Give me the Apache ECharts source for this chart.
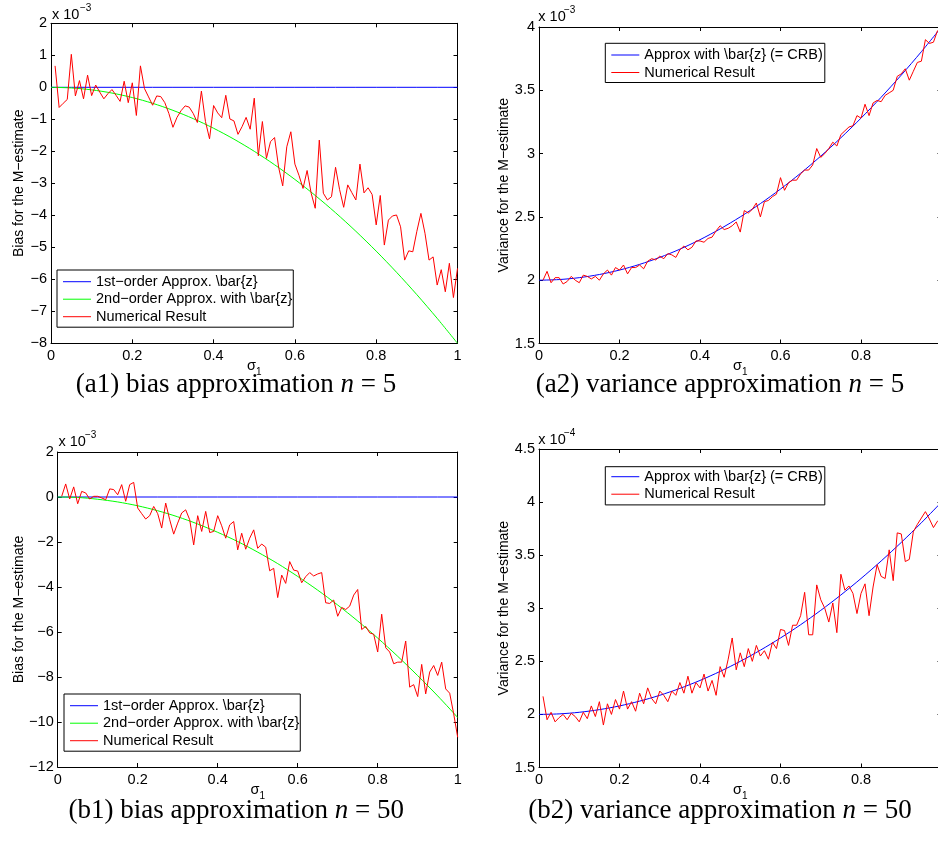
<!DOCTYPE html>
<html>
<head>
<meta charset="utf-8">
<script src="https://cdn.jsdelivr.net/npm/echarts@6/dist/echarts.min.js"></script>
<style>
html, body { margin: 0; padding: 0; background: #fff; }
#fig { width: 938px; height: 846px; }
</style>
</head>
<body>
<div id="fig"></div>
<script>
// sigma_1 sample points of the simulation
const sigma = [
  0.01,0.02,0.03,0.04,0.05,0.06,0.07,0.08,0.09,0.10,
  0.11,0.12,0.13,0.14,0.15,0.16,0.17,0.18,0.19,0.20,
  0.21,0.22,0.23,0.24,0.25,0.26,0.27,0.28,0.29,0.30,
  0.31,0.32,0.33,0.34,0.35,0.36,0.37,0.38,0.39,0.40,
  0.41,0.42,0.43,0.44,0.45,0.46,0.47,0.48,0.49,0.50,
  0.51,0.52,0.53,0.54,0.55,0.56,0.57,0.58,0.59,0.60,
  0.61,0.62,0.63,0.64,0.65,0.66,0.67,0.68,0.69,0.70,
  0.71,0.72,0.73,0.74,0.75,0.76,0.77,0.78,0.79,0.80,
  0.81,0.82,0.83,0.84,0.85,0.86,0.87,0.88,0.89,0.90,
  0.91,0.92,0.93,0.94,0.95,0.96,0.97,0.98,0.99,1.00
];
// sigma_1 points for the analytic approximations
const sigmaFit = [0,0.05,0.10,0.15,0.20,0.25,0.30,0.35,0.40,0.45,0.50,0.55,0.60,0.65,0.70,0.75,0.80,0.85,0.90,0.95,1.00];

// (a1) bias, n = 5  (x 1e-3)
const biasN5First  = [0,0,0,0,0,0,0,0,0,0,0,0,0,0,0,0,0,0,0,0,0];
const biasN5Second = [0,-0.02,-0.08,-0.18,-0.32,-0.50,-0.72,-0.98,-1.28,-1.62,-2.00,-2.42,-2.88,-3.38,-3.92,-4.50,-5.12,-5.78,-6.48,-7.22,-8.00];
const biasN5Numerical = [
  0.67,-0.63,-0.50,-0.38,1.03,-0.27,0.21,-0.36,0.38,-0.26,
  0.07,-0.15,-0.36,-0.20,-0.07,-0.25,-0.44,0.19,-0.48,0.14,
  -0.88,0.67,-0.04,-0.30,-0.56,-0.27,-0.29,-0.48,-0.82,-1.25,
  -0.94,-0.73,-0.58,-0.62,-0.82,-1.10,-0.12,-1.07,-1.61,-0.57,
  -0.80,-0.95,-0.25,-0.99,-1.05,-1.47,-1.23,-0.94,-1.31,-0.34,
  -2.14,-1.07,-2.22,-1.70,-1.57,-2.50,-3.08,-1.86,-1.39,-2.40,
  -2.75,-3.16,-2.60,-3.31,-3.78,-1.65,-3.31,-3.52,-3.42,-2.50,
  -3.20,-3.75,-3.05,-3.29,-3.52,-2.40,-3.30,-3.14,-3.35,-4.30,
  -3.38,-4.93,-4.15,-4.02,-3.99,-4.36,-5.40,-5.11,-5.14,-4.50,
  -3.94,-4.56,-5.40,-5.30,-6.18,-5.70,-6.39,-5.50,-6.57,-5.66
];

// (a2) variance, n = 5  (x 1e-3)
const varN5Approx = [2.000,2.005,2.020,2.045,2.080,2.125,2.180,2.245,2.320,2.405,2.500,2.605,2.720,2.845,2.980,3.125,3.280,3.445,3.620,3.805,4.000];
const varN5Numerical = [
  2.00,2.07,1.98,2.02,2.02,1.97,1.99,2.03,2.00,1.98,
  2.04,2.03,2.01,2.03,2.00,2.05,2.08,2.04,2.10,2.08,
  2.12,2.05,2.10,2.10,2.12,2.09,2.15,2.17,2.16,2.19,
  2.17,2.21,2.20,2.18,2.24,2.27,2.24,2.26,2.31,2.31,
  2.30,2.33,2.34,2.39,2.43,2.40,2.41,2.43,2.46,2.38,
  2.55,2.53,2.56,2.61,2.50,2.62,2.63,2.66,2.68,2.81,
  2.71,2.77,2.79,2.79,2.84,2.87,2.87,2.91,3.04,2.97,
  3.00,3.04,3.09,3.06,3.15,3.18,3.21,3.22,3.30,3.28,
  3.39,3.30,3.40,3.42,3.41,3.46,3.48,3.50,3.61,3.63,
  3.67,3.58,3.65,3.72,3.73,3.90,3.87,3.88,3.97,3.96
];

// (b1) bias, n = 50  (x 1e-3)
const biasN50First  = [0,0,0,0,0,0,0,0,0,0,0,0,0,0,0,0,0,0,0,0,0];
const biasN50Second = [0,-0.02,-0.10,-0.22,-0.39,-0.61,-0.88,-1.20,-1.57,-1.98,-2.45,-2.96,-3.53,-4.14,-4.80,-5.51,-6.27,-7.08,-7.94,-8.84,-9.80];
const biasN50Numerical = [
  0.03,0.58,-0.09,0.45,-0.30,0.25,0.18,-0.09,0.03,0.03,
  -0.04,-0.12,0.36,0.33,0.10,0.55,-0.19,0.55,0.65,-0.49,
  -0.74,-0.98,-0.83,-0.42,-0.74,-1.38,-0.27,-1.01,-1.65,-1.16,
  -0.71,-0.57,-1.01,-2.13,-0.83,-1.53,-0.64,-1.58,-1.53,-0.83,
  -1.28,-1.83,-1.24,-1.09,-2.35,-1.61,-2.32,-1.83,-1.46,-2.28,
  -2.09,-2.23,-3.28,-3.17,-4.47,-3.47,-3.84,-2.87,-3.25,-3.29,
  -3.81,-3.54,-3.36,-3.51,-3.42,-3.36,-4.70,-4.73,-4.58,-5.30,
  -4.91,-5.00,-4.85,-4.36,-4.11,-5.89,-5.75,-6.04,-6.10,-6.89,
  -5.21,-6.70,-6.89,-7.41,-7.34,-7.34,-6.40,-8.45,-8.34,-8.87,
  -7.44,-8.75,-7.78,-7.49,-7.93,-7.34,-8.53,-8.72,-9.64,-10.68
];

// (b2) variance, n = 50  (x 1e-4)
const varN50Approx = [2.000,2.005,2.020,2.045,2.080,2.125,2.180,2.245,2.320,2.405,2.500,2.605,2.720,2.845,2.980,3.125,3.280,3.445,3.620,3.805,4.000];
const varN50Numerical = [
  2.17,1.95,2.02,1.93,1.97,2.00,1.95,2.01,1.98,1.93,
  2.02,1.96,2.08,1.98,2.12,1.90,2.10,2.00,2.14,2.05,
  2.22,2.05,2.12,2.03,2.20,2.10,2.25,2.15,2.10,2.22,
  2.18,2.12,2.22,2.18,2.30,2.20,2.36,2.20,2.30,2.25,
  2.38,2.22,2.32,2.18,2.45,2.35,2.52,2.72,2.42,2.58,
  2.45,2.62,2.50,2.65,2.55,2.60,2.52,2.68,2.62,2.80,
  2.79,2.65,2.84,2.84,2.93,3.15,2.75,2.75,3.22,3.08,
  3.00,2.87,3.05,2.77,3.32,3.17,3.21,3.14,2.95,3.14,
  3.23,2.93,3.20,3.41,3.30,3.28,3.55,3.26,3.71,3.70,
  3.44,3.46,3.72,3.79,3.85,3.91,3.84,3.76,3.82,3.83
];

// series names
const NAME_FIRST  = '1st\u2212order Approx. \\bar{z}';
const NAME_SECOND = '2nd\u2212order Approx. with \\bar{z}';
const NAME_CRB    = 'Approx with \\bar{z} (= CRB)';
const NAME_NUM    = 'Numerical Result';

const FONT  = '"Liberation Sans", Arial, Helvetica, sans-serif';
const SERIF = '"Liberation Serif", "Times New Roman", Times, serif';
const FS = 14.5;
const CAP_FS = 27;

const panels = [
  { grid: { left: 51,   top: 23.3, width: 406.5, height: 320 },   y: { min: -8,  max: 2,   interval: 1 } },
  { grid: { left: 539,  top: 27,   width: 402.5, height: 316.5 }, y: { min: 1.5, max: 4,   interval: 0.5 } },
  { grid: { left: 57.7, top: 452,  width: 400,   height: 315 },   y: { min: -12, max: 2,   interval: 2 } },
  { grid: { left: 539,  top: 449,  width: 402.5, height: 318.5 }, y: { min: 1.5, max: 4.5, interval: 0.5 } }
];

const minusFmt = v => {
  const s = String(Math.round(v * 1000) / 1000);
  return s.replace('-', '\u2212');
};

const grid = [], xAxis = [], yAxis = [];
const axisLine = { onZero: false, lineStyle: { color: '#000', width: 1 } };
const axisTick = { inside: true, length: 4, lineStyle: { color: '#000', width: 1 } };

panels.forEach((p, g) => {
  grid.push(Object.assign({ containLabel: false, outerBoundsMode: 'none' }, p.grid));
  xAxis.push({
    gridIndex: g, type: 'value', min: 0, max: 1, interval: 0.2, position: 'bottom',
    axisLine, axisTick, splitLine: { show: false },
    axisLabel: { color: '#000', fontSize: FS, fontFamily: FONT, margin: 5, formatter: minusFmt }
  });
  xAxis.push({
    gridIndex: g, type: 'value', min: 0, max: 1, interval: 0.2, position: 'top',
    axisLine, axisTick, splitLine: { show: false }, axisLabel: { show: false }
  });
  yAxis.push({
    gridIndex: g, type: 'value', min: p.y.min, max: p.y.max, interval: p.y.interval, position: 'left',
    axisLine, axisTick, splitLine: { show: false },
    axisLabel: { color: '#000', fontSize: FS, fontFamily: FONT, margin: 4, formatter: minusFmt }
  });
  yAxis.push({
    gridIndex: g, type: 'value', min: p.y.min, max: p.y.max, interval: p.y.interval, position: 'right',
    axisLine, axisTick, splitLine: { show: false }, axisLabel: { show: false }
  });
});

function line(name, color, g, xs, ys, smooth) {
  return {
    type: 'line', name, xAxisIndex: 2 * g, yAxisIndex: 2 * g,
    data: xs.map((x, k) => [x, ys[k]]),
    symbol: 'none', showSymbol: false, smooth: smooth ? 0.3 : false,
    lineStyle: { color, width: 1 }, itemStyle: { color },
    animation: false, silent: true, clip: true
  };
}

const BLUE = '#0000ff', GREEN = '#00ff00', RED = '#ff0000';
const series = [
  line(NAME_FIRST,  BLUE,  0, sigmaFit, biasN5First, false),
  line(NAME_SECOND, GREEN, 0, sigmaFit, biasN5Second, true),
  line(NAME_NUM,    RED,   0, sigma,    biasN5Numerical, false),
  line(NAME_CRB,    BLUE,  1, sigmaFit, varN5Approx, true),
  line(NAME_NUM,    RED,   1, sigma,    varN5Numerical, false),
  line(NAME_FIRST,  BLUE,  2, sigmaFit, biasN50First, false),
  line(NAME_SECOND, GREEN, 2, sigmaFit, biasN50Second, true),
  line(NAME_NUM,    RED,   2, sigma,    biasN50Numerical, false),
  line(NAME_CRB,    BLUE,  3, sigmaFit, varN50Approx, true),
  line(NAME_NUM,    RED,   3, sigma,    varN50Numerical, false)
];

function legendBox(names, left, top, padding) {
  return {
    data: names, left, top, orient: 'vertical', selectedMode: false,
    icon: 'rect', itemWidth: 28, itemHeight: 1, itemGap: 2.5,
    padding, borderColor: '#000', borderWidth: 1, backgroundColor: '#fff', borderRadius: 0,
    textStyle: { color: '#000', fontSize: FS, fontFamily: FONT, lineHeight: 15 }
  };
}

const legend = [
  legendBox([NAME_FIRST, NAME_SECOND, NAME_NUM], 57, 270, [4.2, 1, 3, 6]),
  legendBox([NAME_CRB, NAME_NUM], 605.3, 43.3, [4.2, 2, 2.5, 6]),
  legendBox([NAME_FIRST, NAME_SECOND, NAME_NUM], 64, 694, [4.2, 1, 3, 6]),
  legendBox([NAME_CRB, NAME_NUM], 605.3, 466.7, [2.5, 2, 3.2, 6])
];

const graphics = [];
function text(x, y, str, size, extra) {
  const style = Object.assign({
    text: str, fontSize: size, fontFamily: FONT, fill: '#000',
    align: 'left', textAlign: 'left', verticalAlign: 'middle', textVerticalAlign: 'middle'
  }, extra || {});
  const el = { type: 'text', x, y, silent: true, style };
  graphics.push(el);
  return el;
}

// axis multipliers
text(52, 14.7, 'x 10', FS);       text(80, 8, '\u22123', 10);
text(538.3, 16.7, 'x 10', FS);    text(564, 10, '\u22123', 10);
text(58.5, 442, 'x 10', FS);      text(85, 435, '\u22123', 10);
text(538.3, 440, 'x 10', FS);     text(564, 433, '\u22124', 10);

// x axis titles (sigma with subscript 1)
[[251.5, 366], [737.5, 366], [255, 790], [737.5, 790]].forEach(([x, y]) => {
  text(x, y, '\u03c3', FS, { align: 'center', textAlign: 'center' });
  text(x + 4.5, y + 6.5, '1', 10);
});

// y axis titles
const yTitles = [
  [19, 183.3, 'Bias for the M\u2212estimate'],
  [504.5, 185.2, 'Variance for the M\u2212estimate'],
  [19.5, 609.5, 'Bias for the M\u2212estimate'],
  [504.5, 608.2, 'Variance for the M\u2212estimate']
];
yTitles.forEach(([x, y, s]) => {
  const el = text(x, y, s, FS - 0.5, { align: 'center', textAlign: 'center' });
  el.rotation = Math.PI / 2;
});

// sub-figure captions
const captions = [
  [236, 385, '(a1) bias approximation ', '5'],
  [720, 385, '(a2) variance approximation ', '5'],
  [236.3, 811, '(b1) bias approximation ', '50'],
  [720, 811, '(b2) variance approximation ', '50']
];
captions.forEach(([x, y, lead, n]) => {
  text(x, y, '{r|' + lead + '}{i|n}{r| = ' + n + '}', CAP_FS, {
    align: 'center', textAlign: 'center', fontFamily: SERIF,
    rich: {
      r: { fontFamily: SERIF, fontSize: CAP_FS, fill: '#000' },
      i: { fontFamily: SERIF, fontSize: CAP_FS, fontStyle: 'italic', fill: '#000' }
    }
  });
});

const chart = echarts.init(document.getElementById('fig'), null, { renderer: 'canvas' });
chart.setOption({
  animation: false,
  backgroundColor: '#fff',
  grid, xAxis, yAxis, series, legend,
  graphic: { elements: graphics }
});
</script>
</body>
</html>
